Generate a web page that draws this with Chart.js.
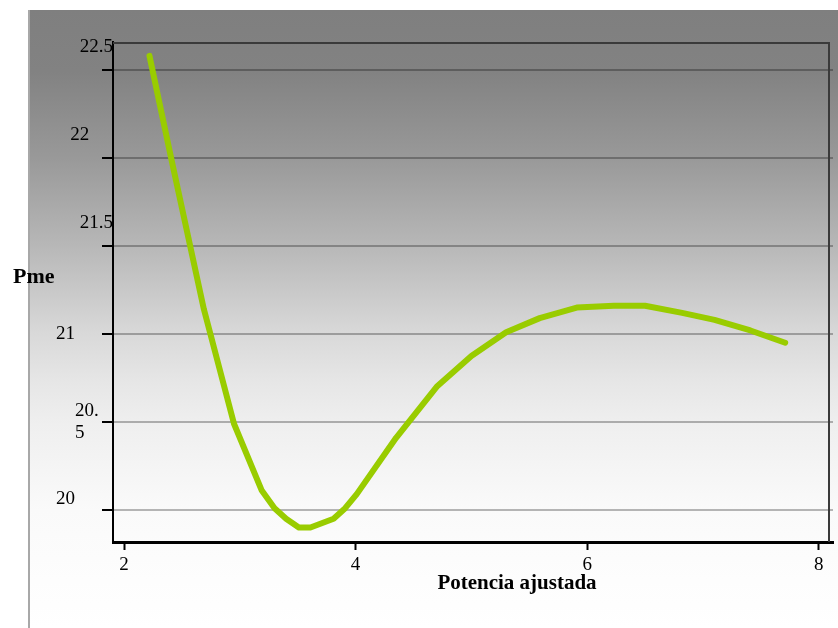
<!DOCTYPE html>
<html>
<head>
<meta charset="utf-8">
<script src="https://cdn.jsdelivr.net/npm/chart.js@4"></script>
<style>
  body { margin: 0; background: #fff; }
  #wrap { width: 838px; height: 628px; position: relative; }
</style>
</head>
<body>
<div id="wrap"><canvas id="myChart"></canvas></div>
<script>
const potencia = [2.22, 2.41, 2.69, 2.95, 3.19, 3.30, 3.40, 3.51, 3.61, 3.81, 3.91, 4.01, 4.35, 4.70, 5.00, 5.30, 5.59, 5.91, 6.23, 6.50, 6.82, 7.10, 7.41, 7.71];
const pme = [22.58, 21.99, 21.14, 20.49, 20.11, 20.01, 19.95, 19.90, 19.90, 19.95, 20.01, 20.09, 20.41, 20.70, 20.875, 21.01, 21.09, 21.15, 21.16, 21.16, 21.12, 21.08, 21.02, 20.95];
const xTicks = [2, 4, 6, 8];
const yTicks = [20, 20.5, 21, 21.5, 22, 22.5];
const yTitle = 'Pme';
const xTitle = 'Potencia ajustada';

const ctx = document.querySelector("#myChart");
const serif = "'Liberation Serif', 'Times New Roman', serif";

// the original labels sit a bit off their ticks, nudged with blank lines / trailing spaces
const pad = (px) => ' '.repeat(Math.round(px / 4.75));
const yLabelShape = {
    '22.5': ['22.5', '', ''],
    '22': ['22' + pad(25), '', ''],
    '21.5': ['21.5', '', ''],
    '21': ['21' + pad(36)],
    '20.5': ['20.' + pad(15), '5' + pad(30)],
    '20': ['20' + pad(38), '']
};

const fondo = {
    id: 'fondo',
    beforeDraw(chart) {
        const c = chart.ctx;
        c.save();
        c.fillStyle = '#ffffff';
        c.fillRect(0, 0, chart.width, chart.height);
        const g = c.createLinearGradient(0, 10, 0, chart.height);
        g.addColorStop(0, '#7f7f7f');
        g.addColorStop(0.10, '#828282');
        g.addColorStop(0.24, '#999999');
        g.addColorStop(0.38, '#b7b7b7');
        g.addColorStop(0.52, '#d8d8d8');
        g.addColorStop(0.60, '#e6e6e6');
        g.addColorStop(0.67, '#efefef');
        g.addColorStop(0.81, '#fafafa');
        g.addColorStop(1, '#ffffff');
        c.fillStyle = g;
        c.fillRect(28, 10, chart.width - 28, chart.height - 10);
        c.strokeStyle = '#a8a8a8';
        c.lineWidth = 2;
        c.beginPath();
        c.moveTo(29, 10);
        c.lineTo(29, chart.height);
        c.stroke();
        c.restore();
    },
    afterDatasetsDraw(chart) {
        const c = chart.ctx;
        const a = chart.chartArea;
        c.save();
        c.strokeStyle = '#3a3a3a';
        c.lineWidth = 2;
        c.beginPath();
        c.moveTo(a.left, a.top + 1);
        c.lineTo(a.right - 4, a.top + 1);
        c.lineTo(a.right - 4, a.bottom);
        c.stroke();
        c.fillStyle = '#000';
        c.textBaseline = 'middle';
        c.textAlign = 'left';
        c.font = "bold 22px " + serif;
        c.fillText(yTitle, 13, 277);
        c.textAlign = 'center';
        c.font = "bold 21px " + serif;
        c.fillText(xTitle, 517, 584);
        c.restore();
    }
};

const myChart = new Chart(ctx, {
    type: 'line',
    data: {
        datasets: [{
            label: yTitle,
            data: potencia.map((p, i) => ({ x: p, y: pme[i] })),
            borderColor: '#99cc00',
            borderWidth: 6,
            borderCapStyle: 'round',
            borderJoinStyle: 'round',
            pointRadius: 0,
            tension: 0,
            fill: false
        }]
    },
    options: {
        responsive: true,
        maintainAspectRatio: false,
        animation: false,
        layout: { padding: { top: 42, right: 5, left: 0, bottom: 0 } },
        plugins: { legend: { display: false }, tooltip: { enabled: false } },
        scales: {
            x: {
                type: 'linear',
                min: 1.905,
                max: 8.123,
                afterFit: (s) => { s.height = 86; },
                afterBuildTicks: (s) => { s.ticks = xTicks.map(v => ({ value: v })); },
                border: { color: '#000', width: 3 },
                grid: { drawOnChartArea: false, drawTicks: true, tickLength: 8, tickColor: '#000', tickWidth: 2 },
                ticks: {
                    color: '#000',
                    padding: 4,
                    maxRotation: 0,
                    font: { family: serif, size: 19 },
                    callback: (v) => String(v)
                }
            },
            y: {
                min: 19.818,
                max: 22.659,
                afterFit: (s) => { s.width = 113; },
                afterBuildTicks: (s) => { s.ticks = yTicks.map(v => ({ value: v })); },
                border: { color: '#000', width: 2 },
                grid: { color: 'rgba(0,0,0,0.28)', lineWidth: 2, drawTicks: true, tickLength: 11, tickColor: '#000', tickWidth: 2 },
                ticks: {
                    color: '#000',
                    padding: -11,
                    crossAlign: 'near',
                    font: { family: serif, size: 19 },
                    callback: (v) => yLabelShape[String(v)] || String(v)
                }
            }
        }
    },
    plugins: [fondo]
});
</script>
</body>
</html>
